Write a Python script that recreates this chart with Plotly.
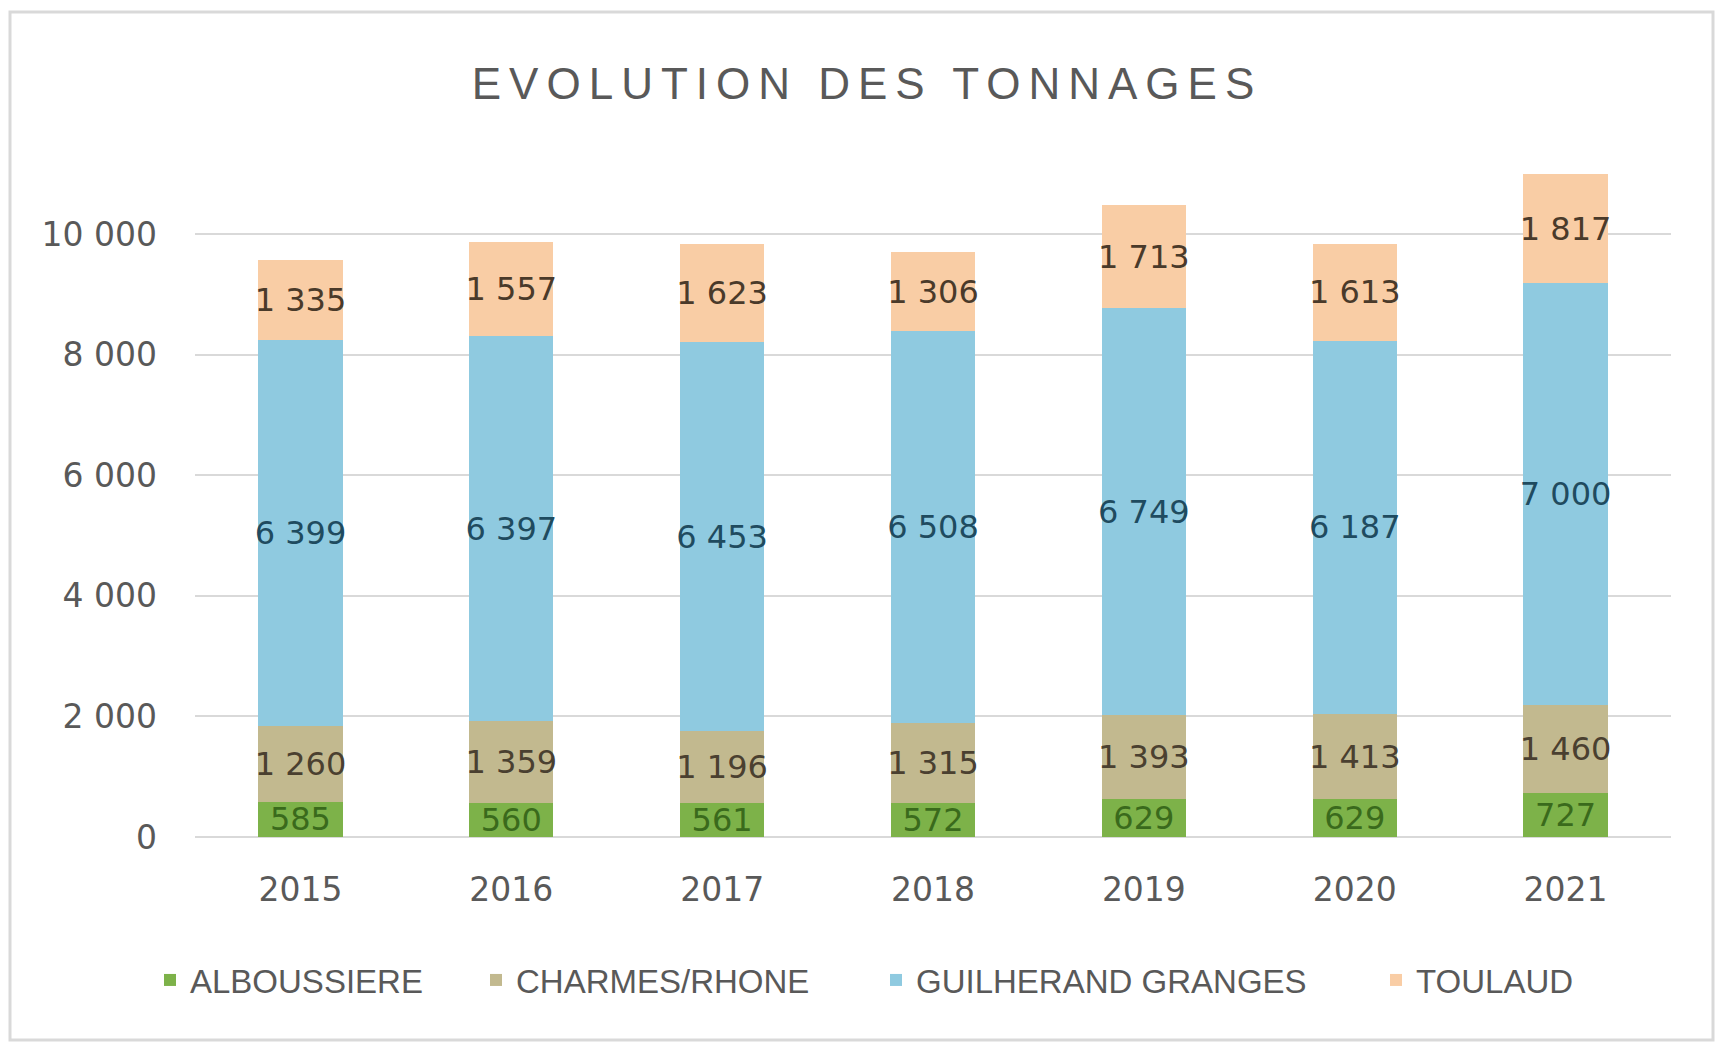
import plotly.graph_objects as go

years = ["2015", "2016", "2017", "2018", "2019", "2020", "2021"]
alboussiere = [585, 560, 561, 572, 629, 629, 727]
charmes = [1260, 1359, 1196, 1315, 1393, 1413, 1460]
guilherand = [6399, 6397, 6453, 6508, 6749, 6187, 7000]
toulaud = [1335, 1557, 1623, 1306, 1713, 1613, 1817]

series = [
    ("ALBOUSSIERE", alboussiere, "#7DB249", "#3A6A1C"),
    ("CHARMES/RHONE", charmes, "#C2B98F", "#4A4030"),
    ("GUILHERAND GRANGES", guilherand, "#8FCAE0", "#1F4B5F"),
    ("TOULAUD", toulaud, "#F9CDA5", "#4A3A2A"),
]
legend_left_px = [150, 476, 876, 1376]

W, H = 1722, 1043
L, R, T, B = 195, 51, 162, 206

pw, ph = W - L - R, H - T - B
def px_x(p): return (p - L) / pw
def px_y(p): return (H - B - p) / ph

fig = go.Figure()
legend_layouts = {}
for i, (name, vals, col, tcol) in enumerate(series):
    lname = "legend" if i == 0 else f"legend{i + 1}"
    fig.add_trace(go.Bar(
        x=years, y=vals, name=name, legend=lname,
        marker=dict(color=col, line=dict(width=0)),
        texttemplate="%{y:,d}", textposition="inside",
        insidetextanchor="middle", constraintext="none",
        textfont=dict(family="DejaVu Sans", size=32, color=tcol),
        textangle=0,
    ))
    legend_layouts[lname] = dict(
        orientation="h", x=px_x(legend_left_px[i]), xanchor="left",
        y=px_y(980), yanchor="middle",
        bgcolor="rgba(0,0,0,0)",
        font=dict(family="Liberation Sans", size=33, color="#595959"),
    )

fig.add_shape(type="rect", xref="paper", yref="paper",
              x0=px_x(10), x1=px_x(1713), y0=px_y(1040), y1=px_y(12),
              line=dict(color="#D9D9D9", width=3), fillcolor="rgba(0,0,0,0)", layer="below")

fig.update_layout(
    width=W, height=H,
    barmode="stack", bargap=0.6,
    separators=", ",
    paper_bgcolor="white", plot_bgcolor="white",
    margin=dict(l=L, r=R, t=T, b=B, autoexpand=False),
    title=dict(text="EVOLUTION DES TONNAGES", x=867 / W, xref="container", xanchor="center",
               y=1 - 84 / H, yanchor="middle",
               font=dict(family="Liberation Sans", size=44, color="#595959")),
    xaxis=dict(showgrid=False, tickfont=dict(family="DejaVu Sans", size=33, color="#595959"),
               ticks="", showline=False, tickangle=0, automargin=False,
               ticklabelstandoff=30),
    yaxis=dict(range=[0, 11200], tickvals=[0, 2000, 4000, 6000, 8000, 10000], tickformat=",d",
               showgrid=True, gridcolor="#D9D9D9", gridwidth=2, zeroline=True,
               zerolinecolor="#D9D9D9", zerolinewidth=2, showline=False, ticks="",
               ticklabelstandoff=37, automargin=False,
               tickfont=dict(family="DejaVu Sans", size=33, color="#595959")),
    showlegend=True,
    **legend_layouts,
)

post = """
document.body.style.margin='0';
document.querySelectorAll('.gtitle').forEach(function(e){e.style.letterSpacing='8px';});
"""
fig.write_html("out.html", post_script=post, config={"displayModeBar": False})
